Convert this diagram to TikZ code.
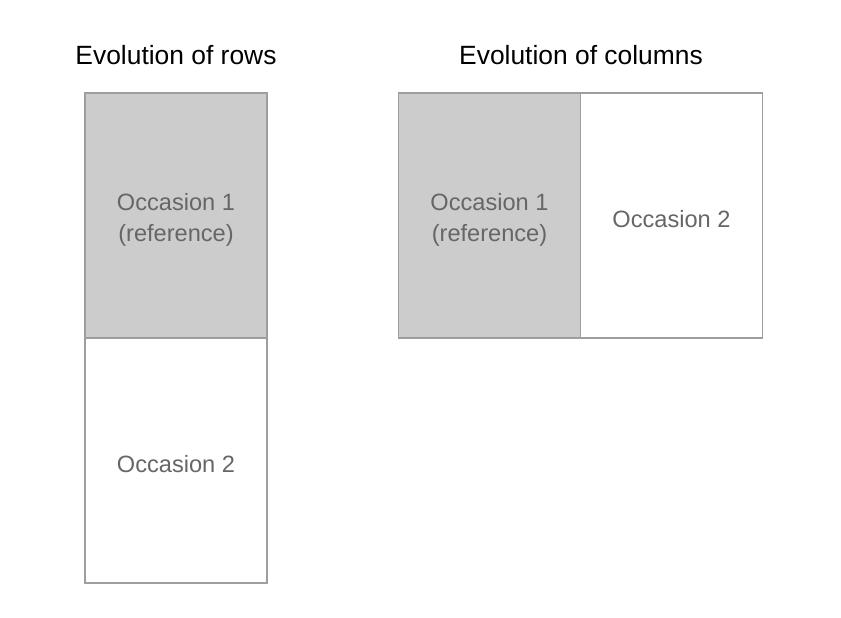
\documentclass[tikz,border=0pt]{standalone}
\usepackage{fontspec}
\setmainfont{Liberation Sans}
\usetikzlibrary{positioning}
\definecolor{occfill}{HTML}{CCCCCC}
\definecolor{occline}{HTML}{9E9E9E}
\definecolor{occtext}{HTML}{666666}
\begin{document}
\begin{tikzpicture}[x=0.75pt,y=-0.75pt]
    \tikzset{occasion/.style={rectangle, draw=occline, line width=1.1pt, outer sep=0pt,
        minimum width=136.5pt, minimum height=183.75pt},
      occlabel/.style={label={[align=center, text=occtext, yshift=-3pt,
        font=\fontsize{17.7}{23.3}\selectfont]center:#1}}}
    \tikzstyle{heading}=[font=\fontsize{19.8}{24}\selectfont, text=black]
    \useasboundingbox (0,0) rectangle (841,617);

    % ROWS
    \node(rowstitle) at (176,55) [heading] {Evolution of rows};
    \node(rowsocc1) at (176,215.5) [occasion, fill=occfill, occlabel={Occasion 1\\(reference)}] {};
    \node(rowsocc2) [occasion, below=0pt of rowsocc1, occlabel={Occasion 2}] {};

    % COLUMNS
    \node(colstitle) at (581,55) [heading] {Evolution of columns};
    \node(colsocc1) at (489.5,215.5) [occasion, fill=occfill, occlabel={Occasion 1\\(reference)}] {};
    \node(colsocc2) [occasion, right=0pt of colsocc1, occlabel={Occasion 2}] {};
\end{tikzpicture}
\end{document}
